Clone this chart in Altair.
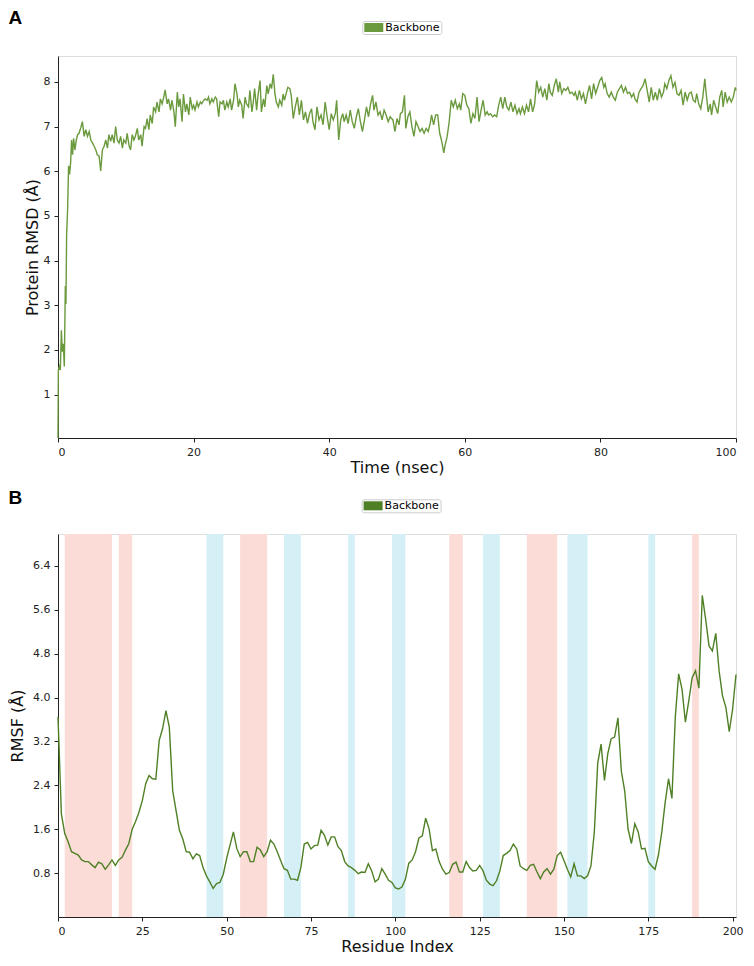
import altair as alt
import pandas as pd

# ---------------- Panel A: protein backbone RMSD vs time ----------------
time_ns = [
    0.0, 0.05, 0.2, 0.34, 0.5, 0.64, 0.78, 0.93, 1.08, 1.17,
    1.27, 1.42, 1.56, 1.71, 1.86, 2.0, 2.15, 2.3, 2.5, 2.7,
    2.9, 3.1, 3.37, 3.6, 3.86, 4.1, 4.35, 4.6, 4.84, 5.1,
    5.33, 5.57, 5.8, 6.06, 6.3, 6.55, 6.8, 7.04, 7.3, 7.5,
    7.77, 8.0, 8.26, 8.5, 8.75, 9.0, 9.24, 9.5, 9.7, 10.0,
    10.2, 10.5, 10.7, 10.95, 11.2, 11.4, 11.7, 11.9, 12.2, 12.4,
    12.7, 12.9, 13.15, 13.4, 13.6, 13.9, 14.1, 14.4, 14.6, 14.9,
    15.1, 15.35, 15.6, 15.8, 16.1, 16.3, 16.6, 16.8, 17.1, 17.3,
    17.6, 17.8, 18.0, 18.3, 18.5, 18.8, 19.0, 19.3, 19.5, 19.8,
    20.0, 20.2, 20.5, 20.7, 21.0, 21.2, 21.5, 21.7, 22.0, 22.2,
    22.4, 22.7, 22.9, 23.2, 23.4, 23.7, 23.9, 24.2, 24.4, 24.6,
    24.9, 25.1, 25.4, 25.6, 25.9, 26.1, 26.4, 26.6, 26.8, 27.1,
    27.3, 27.6, 27.8, 28.1, 28.3, 28.6, 28.8, 29.0, 29.3, 29.5,
    29.8, 30.0, 30.3, 30.5, 30.8, 31.0, 31.3, 31.5, 31.75, 32.0,
    32.2, 32.5, 32.7, 33.0, 33.2, 33.4, 33.7, 33.9, 34.2, 34.4,
    34.7, 35.0, 35.3, 35.6, 35.9, 36.2, 36.5, 36.8, 37.1, 37.4,
    37.6, 37.9, 38.2, 38.5, 38.8, 39.1, 39.4, 39.7, 40.0, 40.3,
    40.6, 40.9, 41.1, 41.4, 41.7, 42.0, 42.2, 42.5, 42.8, 43.1,
    43.4, 43.7, 44.0, 44.3, 44.6, 44.9, 45.2, 45.5, 45.8, 46.1,
    46.4, 46.6, 46.9, 47.2, 47.5, 47.8, 48.1, 48.4, 48.7, 49.0,
    49.2, 49.4, 49.7, 50.0, 50.3, 50.5, 50.8, 51.1, 51.3, 51.6,
    51.9, 52.2, 52.5, 52.8, 53.1, 53.4, 53.7, 54.0, 54.3, 54.6,
    54.9, 55.1, 55.4, 55.7, 56.0, 56.3, 56.6, 56.9, 57.1, 57.4,
    57.7, 58.0, 58.3, 58.6, 58.9, 59.2, 59.4, 59.7, 60.0, 60.3,
    60.6, 60.9, 61.2, 61.5, 61.8, 62.1, 62.4, 62.7, 63.0, 63.3,
    63.5, 63.8, 64.1, 64.4, 64.7, 65.0, 65.3, 65.6, 65.9, 66.2,
    66.5, 66.8, 67.1, 67.4, 67.7, 68.0, 68.2, 68.5, 68.8, 69.1,
    69.4, 69.7, 70.0, 70.3, 70.6, 70.9, 71.2, 71.5, 71.8, 72.1,
    72.4, 72.6, 72.9, 73.2, 73.5, 73.8, 74.0, 74.3, 74.6, 74.9,
    75.2, 75.5, 75.8, 76.1, 76.3, 76.6, 76.9, 77.2, 77.5, 77.8,
    78.1, 78.4, 78.7, 79.0, 79.3, 79.6, 79.9, 80.2, 80.5, 80.7,
    81.0, 81.3, 81.6, 81.9, 82.2, 82.5, 82.8, 83.1, 83.4, 83.7,
    84.0, 84.3, 84.6, 84.9, 85.1, 85.4, 85.7, 86.0, 86.3, 86.6,
    86.9, 87.2, 87.5, 87.8, 88.1, 88.4, 88.7, 89.0, 89.3, 89.5,
    89.8, 90.1, 90.4, 90.7, 91.0, 91.3, 91.6, 91.9, 92.2, 92.5,
    92.8, 93.1, 93.4, 93.7, 94.0, 94.2, 94.5, 94.8, 95.1, 95.4,
    95.6, 95.9, 96.2, 96.4, 96.7, 97.0, 97.3, 97.6, 97.9, 98.1,
    98.4, 98.7, 99.0, 99.3, 99.6, 99.9, 100.0,
]
rmsd_backbone = [
    0.03, 1.55, 1.63, 1.55, 2.44, 1.96, 2.14, 1.63, 3.43, 3.03,
    4.57, 5.16, 6.12, 5.93, 6.19, 6.70, 6.37, 6.74, 6.48, 6.70,
    6.82, 6.85, 6.98, 7.11, 6.78, 6.93, 6.78, 6.89, 6.70, 6.63,
    6.56, 6.48, 6.37, 6.34, 6.01, 6.48, 6.56, 6.70, 6.52, 6.82,
    6.67, 6.82, 6.63, 7.00, 6.70, 6.63, 6.78, 6.52, 6.70, 6.63,
    6.85, 6.56, 6.48, 6.82, 6.70, 6.78, 6.96, 6.70, 6.82, 6.56,
    7.00, 6.96, 7.18, 6.93, 7.26, 7.07, 7.44, 7.33, 7.55, 7.33,
    7.62, 7.51, 7.66, 7.82, 7.51, 7.62, 7.37, 7.59, 7.33, 7.00,
    7.77, 7.44, 7.62, 7.11, 7.73, 7.33, 7.51, 7.26, 7.66, 7.40,
    7.48, 7.37, 7.55, 7.44, 7.55, 7.51, 7.59, 7.62, 7.59, 7.66,
    7.51, 7.62, 7.55, 7.66, 7.62, 7.22, 7.55, 7.51, 7.59, 7.37,
    7.55, 7.44, 7.62, 7.37, 7.59, 7.96, 7.73, 7.44, 7.59, 7.48,
    7.18, 7.66, 7.51, 7.44, 7.81, 7.33, 7.55, 7.85, 7.37, 7.70,
    8.03, 7.33, 7.62, 7.44, 7.92, 7.73, 7.96, 7.85, 8.17, 7.73,
    7.55, 7.44, 7.59, 7.48, 7.73, 7.59, 7.77, 7.88, 7.85, 7.70,
    7.18, 7.44, 7.66, 7.26, 7.59, 7.15, 7.33, 7.07, 7.29, 7.40,
    7.11, 6.93, 7.44, 7.15, 7.26, 7.04, 7.55, 7.22, 6.93, 7.29,
    7.15, 7.29, 7.59, 6.70, 7.15, 7.29, 7.11, 7.26, 7.07, 7.37,
    7.11, 6.96, 7.22, 7.40, 7.11, 6.89, 7.15, 7.44, 7.22, 7.51,
    7.70, 7.37, 7.55, 7.26, 7.33, 7.15, 7.37, 7.26, 7.11, 7.22,
    7.18, 7.15, 6.89, 7.18, 7.04, 7.29, 7.33, 7.70, 6.96, 7.22,
    7.33, 7.00, 6.78, 7.11, 7.00, 6.89, 6.96, 6.85, 6.96, 6.89,
    7.07, 7.26, 7.04, 7.26, 7.26, 6.85, 6.67, 6.41, 6.59, 6.78,
    7.11, 7.59, 7.44, 7.59, 7.40, 7.51, 7.37, 7.74, 7.70, 7.48,
    7.40, 7.07, 7.29, 7.18, 7.66, 7.11, 7.37, 7.59, 7.26, 7.33,
    7.26, 7.29, 7.22, 7.26, 7.22, 7.48, 7.66, 7.40, 7.66, 7.44,
    7.37, 7.55, 7.33, 7.48, 7.29, 7.40, 7.29, 7.44, 7.29, 7.48,
    7.33, 7.62, 7.33, 7.51, 8.03, 7.77, 7.88, 7.66, 7.85, 7.59,
    7.96, 7.77, 7.70, 7.92, 8.07, 7.77, 8.00, 7.74, 7.85, 7.81,
    7.88, 7.74, 7.77, 7.70, 7.77, 7.59, 7.81, 7.62, 7.74, 7.51,
    7.74, 7.92, 7.62, 7.96, 7.74, 7.88, 8.03, 8.10, 7.88, 7.96,
    7.74, 7.66, 7.77, 7.66, 7.59, 7.77, 7.85, 7.92, 7.77, 7.88,
    7.74, 7.77, 7.66, 7.74, 7.62, 7.55, 7.77, 7.85, 7.92, 8.07,
    7.81, 7.55, 7.88, 7.59, 7.77, 7.59, 7.85, 7.66, 7.77, 7.96,
    7.85, 8.03, 8.14, 7.88, 7.99, 7.74, 7.70, 7.81, 7.48, 7.77,
    7.59, 7.74, 7.77, 7.59, 7.55, 7.74, 7.51, 7.40, 7.66, 8.07,
    7.74, 7.33, 7.51, 7.26, 7.59, 7.44, 7.29, 7.66, 7.81, 7.44,
    7.77, 7.55, 7.66, 7.55, 7.66, 7.88, 7.81,
]
time_ticks = [0, 20, 40, 60, 80, 100]
rmsd_ticks = [1, 2, 3, 4, 5, 6, 7, 8]

# ---------------- Panel B: per-residue RMSF ----------------
residue_index = list(range(0, 202))
rmsf_backbone = [
    3.65, 1.88, 1.52, 1.37, 1.19, 1.16, 1.13, 1.04, 1.01, 1.01,
    0.95, 0.90, 1.00, 0.97, 0.87, 0.95, 1.04, 0.94, 1.04, 1.09,
    1.22, 1.34, 1.60, 1.74, 1.91, 2.12, 2.43, 2.58, 2.52, 2.51,
    3.22, 3.43, 3.76, 3.46, 2.30, 1.94, 1.58, 1.42, 1.19, 1.18,
    1.06, 1.15, 1.12, 0.90, 0.75, 0.64, 0.52, 0.61, 0.63, 0.78,
    1.07, 1.31, 1.55, 1.25, 1.10, 1.19, 1.19, 1.01, 1.01, 1.27,
    1.22, 1.10, 1.19, 1.40, 1.33, 1.19, 1.03, 0.88, 0.85, 0.69,
    0.69, 0.67, 0.90, 1.33, 1.36, 1.24, 1.30, 1.31, 1.58, 1.49,
    1.31, 1.46, 1.46, 1.28, 1.21, 1.01, 0.93, 0.90, 0.85, 0.79,
    0.82, 0.81, 0.97, 0.84, 0.64, 0.69, 0.88, 0.78, 0.67, 0.63,
    0.53, 0.51, 0.55, 0.69, 0.98, 1.04, 1.19, 1.44, 1.48, 1.80,
    1.61, 1.21, 1.24, 1.01, 0.87, 0.78, 0.81, 0.96, 1.00, 0.82,
    0.82, 1.01, 0.90, 0.84, 0.85, 0.94, 0.84, 0.67, 0.60, 0.57,
    0.66, 0.84, 1.12, 1.16, 1.21, 1.33, 1.24, 0.93, 0.88, 0.85,
    0.94, 0.96, 0.82, 0.70, 0.82, 0.88, 0.78, 0.87, 1.12, 1.18,
    1.03, 0.87, 0.73, 0.97, 0.75, 0.75, 0.70, 0.75, 0.93, 1.55,
    2.80, 3.15, 2.49, 2.98, 3.25, 3.28, 3.63, 2.66, 2.30, 1.60,
    1.34, 1.70, 1.55, 1.24, 1.25, 1.01, 0.93, 0.87, 1.13, 1.55,
    2.09, 2.52, 2.16, 3.64, 4.43, 4.15, 3.55, 3.94, 4.36, 4.49,
    4.17, 5.86, 5.43, 4.94, 4.85, 5.17, 4.48, 4.03, 3.82, 3.38,
    3.79, 4.42,
]
# secondary-structure bands (residue ranges)
helix_start = [2, 18, 54, 116, 139, 188]
helix_end = [16, 22, 62, 120, 148, 190]
strand_start = [44, 67, 86, 99, 126, 151, 175]
strand_end = [49, 72, 88, 103, 131, 157, 177]
residue_ticks = [0, 25, 50, 75, 100, 125, 150, 175, 200]
rmsf_ticks = [0.8, 1.6, 2.4, 3.2, 4.0, 4.8, 5.6, 6.4]

series_name = ["Backbone"]

# ---------------- styling ----------------
GREEN_A = "#6a9a3d"
GREEN_B = "#4f8025"
HELIX = "#fbdcd7"
STRAND = "#d5eff7"
INK = "#222222"

df_a = pd.DataFrame({"time": time_ns, "rmsd": rmsd_backbone, "series": series_name[0]})
df_b = pd.DataFrame({"residue": residue_index, "rmsf": rmsf_backbone, "series": series_name[0]})
df_helix = pd.DataFrame({"start": helix_start, "end": helix_end})
df_strand = pd.DataFrame({"start": strand_start, "end": strand_end})


def axis(title, values, fmt=None, title_pad=2):
    kw = dict(
        title=title, values=values, grid=False,
        labelFont="DejaVu Sans", labelFontSize=11, labelColor=INK,
        titleFont="DejaVu Sans", titleFontSize=16, titleFontWeight="normal",
        titleColor="#111111", tickColor=INK, domainColor=INK,
        tickSize=4, labelPadding=4, titlePadding=title_pad,
    )
    if fmt:
        kw["format"] = fmt
    return alt.Axis(**kw)


def legend(lx, ly, colour):
    # filled 19 x 9 swatch (matplotlib-style legend patch), no stroke
    return alt.Legend(
        title=None, orient="none", legendX=lx, legendY=ly,
        symbolType="M-1,-1L3.22,-1L3.22,1L-1,1Z", symbolSize=81,
        symbolStrokeWidth=0, symbolFillColor=colour, symbolOpacity=1,
        labelFont="DejaVu Sans", labelFontSize=11, labelColor="black",
        labelOffset=11, padding=1, strokeColor="#cccccc", fillColor="white",
        cornerRadius=2,
    )


ORIGIN_X = 57.4          # common left edge of both plot areas (page px)
W_A, H_A = 678, 382
W_B, H_B = 678, 383

line_a = alt.Chart(df_a).mark_line(strokeWidth=1.4).encode(
    x=alt.X("time:Q", scale=alt.Scale(domain=[0, 100], nice=False, zero=False),
            axis=axis("Time (nsec)", time_ticks, title_pad=2)),
    y=alt.Y("rmsd:Q", scale=alt.Scale(domain=[0.03, 8.58], nice=False, zero=False),
            axis=axis("Protein RMSD (Å)", rmsd_ticks, fmt="d", title_pad=3)),
    color=alt.Color("series:N", scale=alt.Scale(domain=series_name, range=[GREEN_A]),
                    legend=legend(361.7 - ORIGIN_X, -35, GREEN_A)),
)
label_a = alt.Chart(pd.DataFrame({"t": ["A"]})).mark_text(
    align="left", baseline="top", font="Liberation Sans", fontSize=19,
    fontWeight="bold", color="black",
).encode(text="t:N", x=alt.value(8 - ORIGIN_X), y=alt.value(-47))

top = alt.layer(line_a, label_a).properties(width=W_A, height=H_A)

x_b = alt.Scale(domain=[0, 201], nice=False, zero=False)
helix_rect = alt.Chart(df_helix).mark_rect(color=HELIX, opacity=1).encode(
    x=alt.X("start:Q", scale=x_b), x2="end:Q")
strand_rect = alt.Chart(df_strand).mark_rect(color=STRAND, opacity=1).encode(
    x=alt.X("start:Q", scale=x_b), x2="end:Q")
line_b = alt.Chart(df_b).mark_line(strokeWidth=1.4).encode(
    x=alt.X("residue:Q", scale=x_b, axis=axis("Residue Index", residue_ticks, title_pad=2)),
    y=alt.Y("rmsf:Q", scale=alt.Scale(domain=[0.0, 6.98], nice=False, zero=False),
            axis=axis("RMSF (Å)", rmsf_ticks, fmt=".1f", title_pad=7)),
    color=alt.Color("series:N", scale=alt.Scale(domain=series_name, range=[GREEN_B]),
                    legend=legend(361.0 - ORIGIN_X, -34.7, GREEN_B)),
)
label_b = alt.Chart(pd.DataFrame({"t": ["B"]})).mark_text(
    align="left", baseline="top", font="Liberation Sans", fontSize=19,
    fontWeight="bold", color="black",
).encode(text="t:N", x=alt.value(8 - ORIGIN_X), y=alt.value(-44.7))

bottom = alt.layer(helix_rect, strand_rect, line_b, label_b).properties(width=W_B, height=H_B)

chart = alt.vconcat(top, bottom, spacing=12).properties(
    padding={"left": 0, "top": 0, "right": 0, "bottom": 0}
).resolve_scale(color="independent").configure_view(
    stroke=INK, strokeWidth=1
).configure(background="white")

chart.save("out.html", embed_options={"renderer": "svg", "actions": False})
